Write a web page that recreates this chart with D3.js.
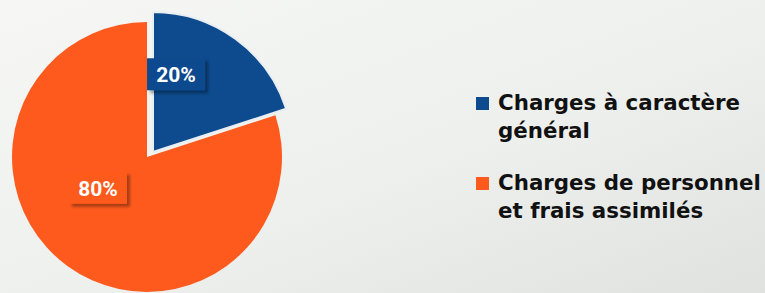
<!DOCTYPE html>
<html>
<head>
<meta charset="utf-8">
<script src="https://cdn.jsdelivr.net/npm/d3@7"></script>
<style>
  html, body { margin: 0; padding: 0; background: #eff0ee; }
  svg { display: block; }
</style>
</head>
<body>
<svg id="chart" width="765" height="293"></svg>
<script>
'use strict';

// data
var categories = ['Charges à caractère général', 'Charges de personnel et frais assimilés'];
var legendLines = [['Charges à caractère', 'général'], ['Charges de personnel', 'et frais assimilés']];
var values = [20, 80];
var colors = ['#0d4a8e', '#fe5a1d'];

var svg = d3.select('#chart');
var W = 765, H = 293;

// background, lighter at top-left, greyer at bottom-right
var defs = svg.append('defs');
var bg = defs.append('linearGradient')
    .attr('id', 'bg')
    .attr('x1', 0).attr('y1', 0)
    .attr('x2', 1).attr('y2', 1);
bg.append('stop').attr('offset', '0%').attr('stop-color', '#f6f7f5');
bg.append('stop').attr('offset', '55%').attr('stop-color', '#eef0ee');
bg.append('stop').attr('offset', '100%').attr('stop-color', '#dfe2df');

svg.append('rect')
    .attr('width', W).attr('height', H)
    .attr('fill', 'url(#bg)');

var shadow = defs.append('filter')
    .attr('id', 'shadow')
    .attr('x', '-20%').attr('y', '-20%')
    .attr('width', '150%').attr('height', '160%');
shadow.append('feGaussianBlur').attr('in', 'SourceAlpha').attr('stdDeviation', 1.5);
shadow.append('feOffset').attr('dx', 3).attr('dy', 3).attr('result', 'off');
shadow.append('feComponentTransfer').append('feFuncA')
    .attr('type', 'linear').attr('slope', 0.35);
var merge = shadow.append('feMerge');
merge.append('feMergeNode');
merge.append('feMergeNode').attr('in', 'SourceGraphic');

// pie
var cx = 147, cy = 157, radius = 135;
var explode = [{dx: 6, dy: -5, r: 140}, {dx: 0, dy: 0, r: radius}];

var pie = d3.pie().sort(null).value(function(d) { return d; });
var arcs = pie(values);

var pieG = svg.append('g')
    .attr('transform', 'translate(' + cx + ',' + cy + ')');

pieG.selectAll('path.slice')
    .data(arcs)
    .enter().append('path')
    .attr('class', 'slice')
    .attr('transform', function(d, i) {
        return 'translate(' + explode[i].dx + ',' + explode[i].dy + ')';
    })
    .attr('d', function(d, i) {
        return d3.arc().innerRadius(0).outerRadius(explode[i].r)(d);
    })
    .attr('fill', function(d, i) { return colors[i]; })
    .attr('stroke', function(d, i) { return i === 0 ? '#e9eef3' : 'none'; })
    .attr('stroke-width', 2)
    .attr('stroke-linejoin', 'round');

// data labels, nudged from the arc centroid
var labelArc = d3.arc().innerRadius(80).outerRadius(80);
var nudge = [{dx: -24, dy: -12}, {dx: -2, dy: -33}];

var labels = pieG.selectAll('g.label')
    .data(arcs)
    .enter().append('g')
    .attr('class', 'label')
    .attr('transform', function(d, i) {
        var c = labelArc.centroid(d);
        return 'translate(' + (c[0] + explode[i].dx + nudge[i].dx) + ',' +
            (c[1] + explode[i].dy + nudge[i].dy) + ')';
    });

labels.append('rect')
    .attr('x', -29).attr('y', -17)
    .attr('width', 58).attr('height', 32)
    .attr('fill', function(d, i) { return colors[i]; })
    .attr('filter', 'url(#shadow)');

labels.append('text')
    .attr('text-anchor', 'middle')
    .attr('y', 7)
    .attr('fill', '#ffffff')
    .style('font-family', 'Roboto, "Noto Sans", sans-serif')
    .style('font-weight', 700)
    .style('font-size', '21px')
    .text(function(d) { return d.data + '%'; });

// legend
var legendX = 474, legendY = [110, 190], lineGap = 28;

var legend = svg.append('g').attr('class', 'legend');

var items = legend.selectAll('g.item')
    .data(categories)
    .enter().append('g')
    .attr('class', 'item')
    .attr('transform', function(d, i) {
        return 'translate(' + legendX + ',' + legendY[i] + ')';
    });

items.append('rect')
    .attr('x', 2).attr('y', -13)
    .attr('width', 13).attr('height', 13)
    .attr('fill', function(d, i) { return colors[i]; });

var texts = items.selectAll('text')
    .data(function(d, i) { return legendLines[i]; })
    .enter().append('text')
    .attr('x', 24)
    .attr('y', function(d, j) { return j * lineGap; })
    .attr('fill', '#111111')
    .style('font-family', '"DejaVu Sans", sans-serif')
    .style('font-weight', 700)
    .style('font-size', '20px')
    .text(function(d) { return d; });

// fit first line width to the reference (~242px), capped to keep lines apart
var w = texts.nodes()[0].getComputedTextLength();
var fs = Math.min(22, 20 * 242 / w);
texts.style('font-size', fs.toFixed(2) + 'px');
</script>
</body>
</html>
